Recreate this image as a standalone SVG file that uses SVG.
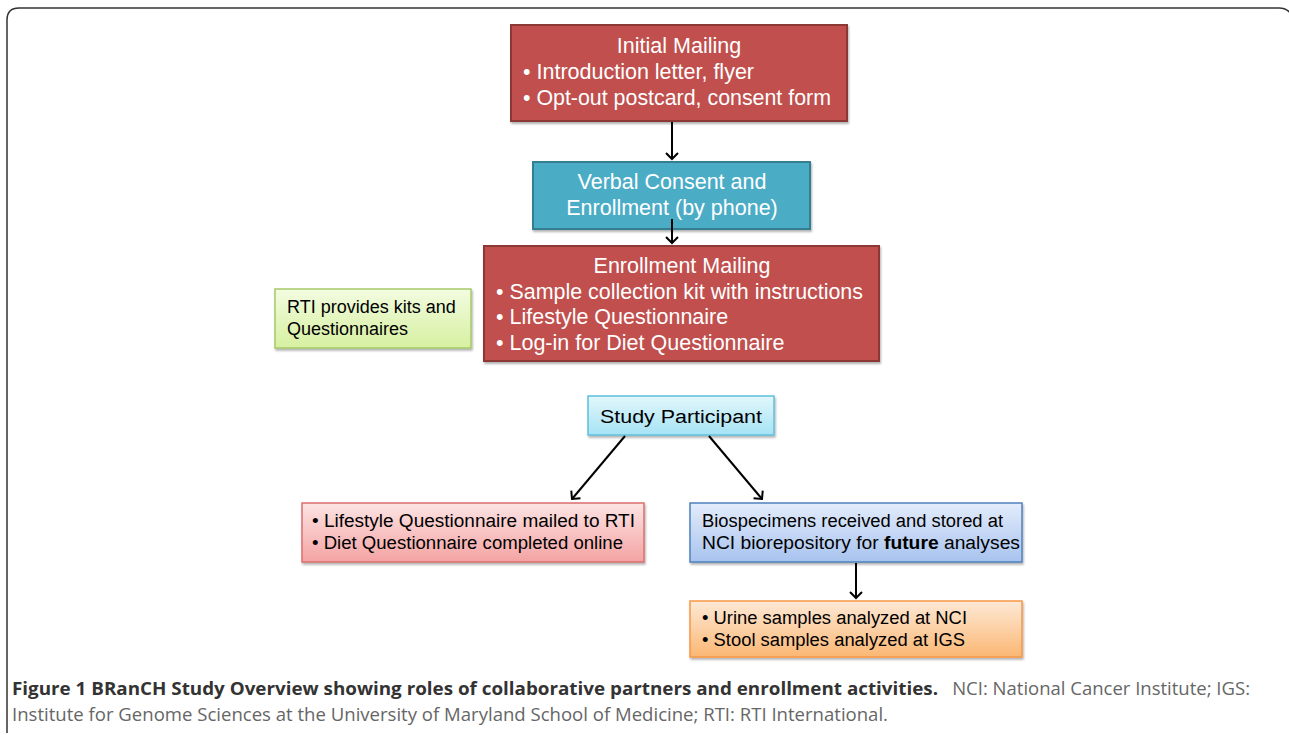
<svg xmlns="http://www.w3.org/2000/svg" width="1289" height="735" viewBox="0 0 1289 735">
<style>
.w{font-family:"Liberation Sans",Arial,sans-serif;fill:#fff;font-size:21.5px}
.b{font-family:"Liberation Sans",Arial,sans-serif;fill:#000;font-size:18px}
.conn{stroke:#000;stroke-width:2;fill:none;marker-end:url(#ah)}
.cap{font-family:"Open Sans","Liberation Sans",sans-serif;font-size:18.5px}
</style>
<defs>
<marker id="ah" markerWidth="14" markerHeight="14" refX="7" refY="7" orient="auto" markerUnits="userSpaceOnUse">
<path d="M1,1 L7,7 L1,13" fill="none" stroke="#000" stroke-width="2"/>
</marker>
<filter id="sh" x="-5%" y="-5%" width="110%" height="120%">
<feDropShadow dx="1" dy="2" stdDeviation="1.2" flood-color="#000" flood-opacity="0.3"/>
</filter>
<linearGradient id="gGreen" x1="0" y1="0" x2="0" y2="1"><stop offset="0" stop-color="#f3fce0"/><stop offset="1" stop-color="#d6f0a0"/></linearGradient>
<linearGradient id="gCyan" x1="0" y1="0" x2="0" y2="1"><stop offset="0" stop-color="#e2f7fc"/><stop offset="1" stop-color="#a6e3f4"/></linearGradient>
<linearGradient id="gPink" x1="0" y1="0" x2="0" y2="1"><stop offset="0" stop-color="#fde4e4"/><stop offset="1" stop-color="#f4a3a3"/></linearGradient>
<linearGradient id="gBlue" x1="0" y1="0" x2="0" y2="1"><stop offset="0" stop-color="#e3ecfb"/><stop offset="1" stop-color="#a8c3ef"/></linearGradient>
<linearGradient id="gOrange" x1="0" y1="0" x2="0" y2="1"><stop offset="0" stop-color="#fde9d6"/><stop offset="1" stop-color="#fbb774"/></linearGradient>
</defs>
<rect width="1289" height="735" fill="#fff"/>
<path d="M7,733 L7,20 Q7,8 19,8 L1279,8 Q1287,8 1291,14 L1291,733" fill="none" stroke="#333" stroke-width="1.5"/>

<g id="initial-mailing">
<rect x="511" y="25" width="336" height="96" fill="#c0504d" stroke="#8c3836" stroke-width="2" filter="url(#sh)"/>
<text class="w" x="679" y="53" text-anchor="middle">Initial Mailing</text>
<text class="w" x="523" y="79">• Introduction letter, flyer</text>
<text class="w" x="523" y="105" textLength="308" lengthAdjust="spacingAndGlyphs">• Opt-out postcard, consent form</text>
</g>
<g id="verbal-consent">
<rect x="533" y="162" width="277" height="67" fill="#4bacc6" stroke="#357d91" stroke-width="2" filter="url(#sh)"/>
<text class="w" x="672" y="189" text-anchor="middle">Verbal Consent and</text>
<text class="w" x="672" y="215" text-anchor="middle">Enrollment (by phone)</text>
</g>
<g id="enrollment-mailing">
<rect x="484" y="246" width="395" height="115" fill="#c0504d" stroke="#8c3836" stroke-width="2" filter="url(#sh)"/>
<text class="w" x="682" y="273" text-anchor="middle">Enrollment Mailing</text>
<text class="w" x="496" y="299" textLength="367" lengthAdjust="spacingAndGlyphs">• Sample collection kit with instructions</text>
<text class="w" x="496" y="324">• Lifestyle Questionnaire</text>
<text class="w" x="496" y="350">• Log-in for Diet Questionnaire</text>
</g>
<g id="rti">
<rect x="275" y="289" width="196" height="59" fill="url(#gGreen)" stroke="#a6c96a" stroke-width="1.5" filter="url(#sh)"/>
<text class="b" x="287" y="313">RTI provides kits and</text>
<text class="b" x="287" y="335">Questionnaires</text>
</g>
<g id="study-participant">
<rect x="588" y="396" width="186" height="39" fill="url(#gCyan)" stroke="#5fc0dc" stroke-width="1.5" filter="url(#sh)"/>
<text class="b" x="681" y="423" text-anchor="middle" font-size="22" textLength="162" lengthAdjust="spacingAndGlyphs">Study Participant</text>
</g>
<g id="questionnaires">
<rect x="302" y="503" width="342" height="59" fill="url(#gPink)" stroke="#d9706d" stroke-width="1.5" filter="url(#sh)"/>
<text class="b" x="312" y="527" font-size="17.5" textLength="323" lengthAdjust="spacingAndGlyphs">• Lifestyle Questionnaire mailed to RTI</text>
<text class="b" x="312" y="549" font-size="17.5" textLength="311" lengthAdjust="spacingAndGlyphs">• Diet Questionnaire completed online</text>
</g>
<g id="biospecimens">
<rect x="690" y="503" width="332" height="59" fill="url(#gBlue)" stroke="#4f81bd" stroke-width="1.5" filter="url(#sh)"/>
<text class="b" x="702" y="527" font-size="17.5" textLength="301" lengthAdjust="spacingAndGlyphs">Biospecimens received and stored at</text>
<text class="b" x="702" y="549" font-size="17.5" textLength="318" lengthAdjust="spacingAndGlyphs">NCI biorepository for <tspan font-weight="bold">future</tspan> analyses</text>
</g>
<g id="analysis">
<rect x="690" y="601" width="332" height="56" fill="url(#gOrange)" stroke="#f79646" stroke-width="1.5" filter="url(#sh)"/>
<text class="b" x="702" y="624" font-size="17.5" textLength="265" lengthAdjust="spacingAndGlyphs">• Urine samples analyzed at NCI</text>
<text class="b" x="702" y="646" font-size="17.5" textLength="263" lengthAdjust="spacingAndGlyphs">• Stool samples analyzed at IGS</text>
</g>
<g id="connectors">
<line class="conn" x1="672" y1="122" x2="672" y2="159"/>
<line class="conn" x1="672" y1="219" x2="672" y2="243"/>
<line class="conn" x1="625" y1="436" x2="572" y2="499"/>
<line class="conn" x1="709" y1="436" x2="762" y2="499"/>
<line class="conn" x1="856" y1="563" x2="856" y2="598"/>
</g>
<g id="caption">
<text class="cap" x="12" y="695" font-weight="bold" fill="#333" textLength="926" lengthAdjust="spacingAndGlyphs">Figure 1 BRanCH Study Overview showing roles of collaborative partners and enrollment activities.</text>
<text class="cap" x="1250" y="695" fill="#666" text-anchor="end">NCI: National Cancer Institute; IGS:</text>
<text class="cap" x="12" y="721" fill="#666" textLength="876" lengthAdjust="spacingAndGlyphs">Institute for Genome Sciences at the University of Maryland School of Medicine; RTI: RTI International.</text>
</g>
</svg>
